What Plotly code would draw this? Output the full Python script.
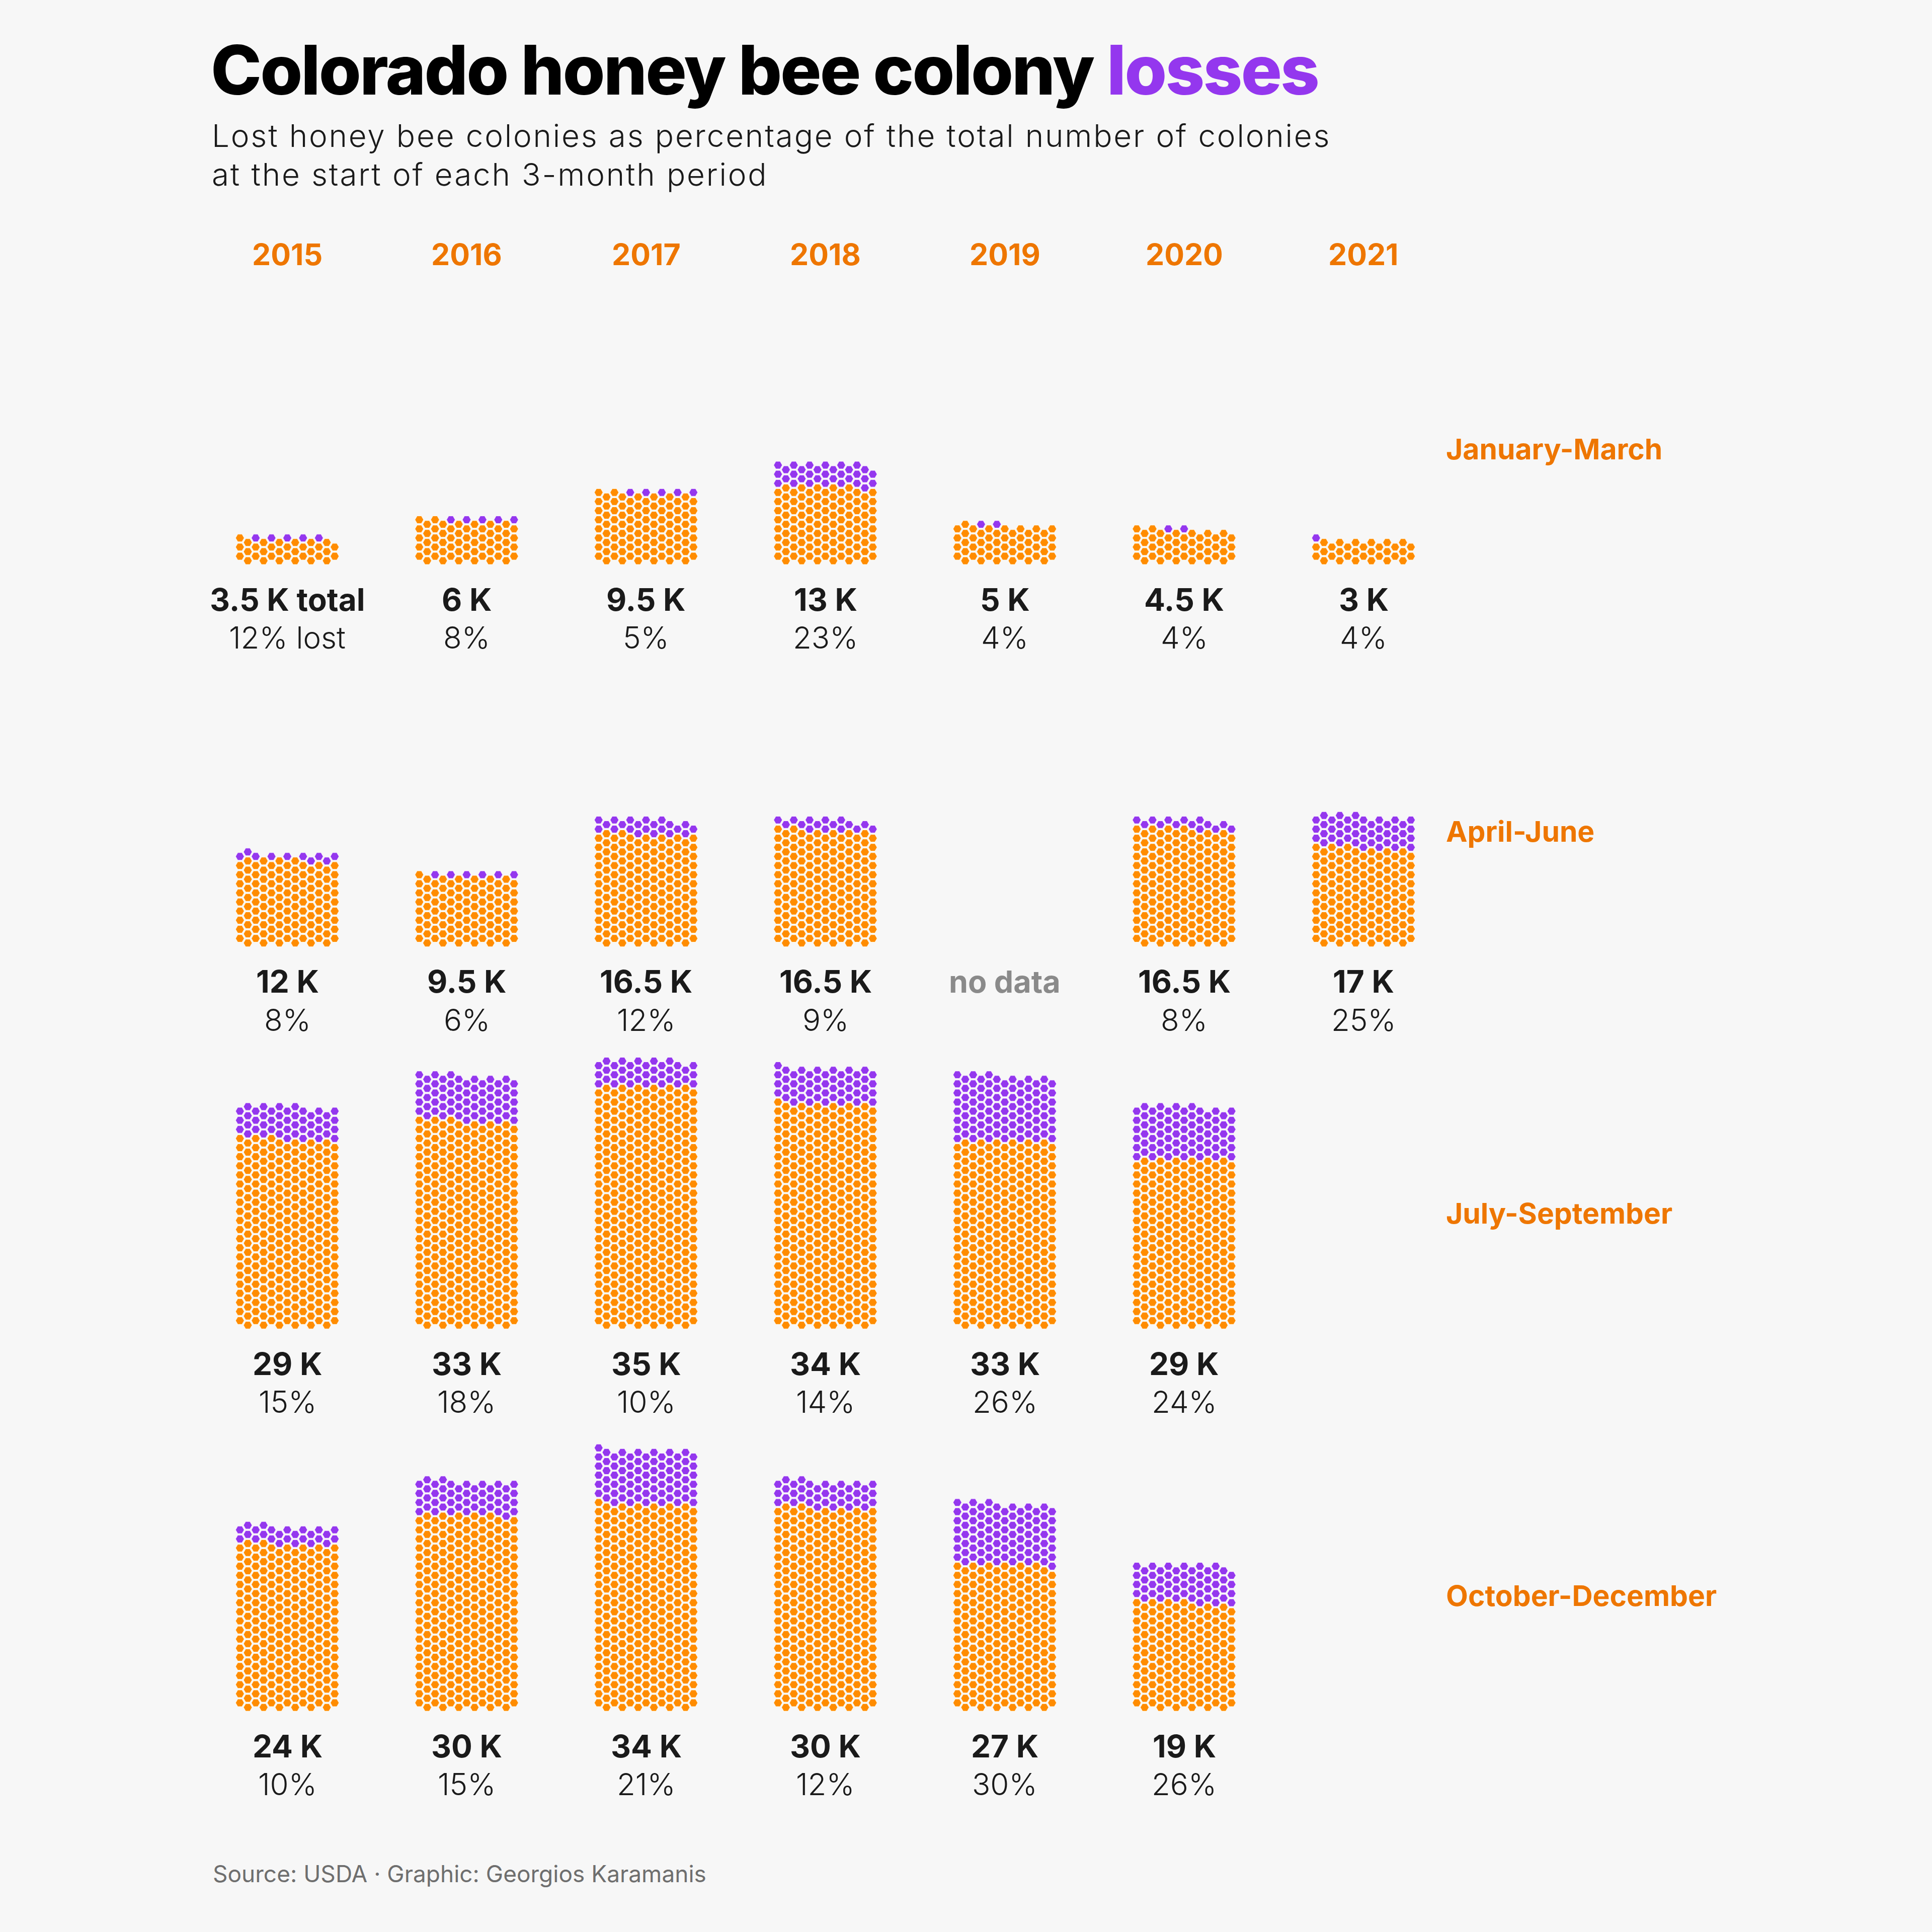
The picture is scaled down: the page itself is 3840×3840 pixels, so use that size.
import plotly.graph_objects as go

# ---------------- data ----------------
years = ["2015", "2016", "2017", "2018", "2019", "2020", "2021"]
periods = ["January-March", "April-June", "July-September", "October-December"]

# colonies at the start of each period (thousands); None = not shown
colonies_jan_mar = [3.5, 6, 9.5, 13, 5, 4.5, 3]
colonies_apr_jun = [12, 9.5, 16.5, 16.5, None, 16.5, 17]
colonies_jul_sep = [29, 33, 35, 34, 33, 29, None]
colonies_oct_dec = [24, 30, 34, 30, 27, 19, None]

# percentage of colonies lost
lost_pct_jan_mar = [12, 8, 5, 23, 4, 4, 4]
lost_pct_apr_jun = [8, 6, 12, 9, None, 8, 25]
lost_pct_jul_sep = [15, 18, 10, 14, 26, 24, None]
lost_pct_oct_dec = [10, 15, 21, 12, 30, 26, None]

no_data_cells = [("April-June", "2019")]

colonies = [colonies_jan_mar, colonies_apr_jun, colonies_jul_sep, colonies_oct_dec]
lost_pct = [lost_pct_jan_mar, lost_pct_apr_jun, lost_pct_jul_sep, lost_pct_oct_dec]

# ---------------- style / geometry ----------------
W = H = 3840
BG = "#F7F7F7"
ORANGE = "#FF8C00"
ORANGE_TXT = "#EE7600"
PURPLE = "#9437EE"
DARK = "#1A1A1A"
FONT = "Inter"

COLONIES_PER_HEX = 91.65   # colonies represented by one hexagon
N_COLS = 13                # hexagon columns per cell
COL_STEP = 15.7            # px between hexagon columns
HALF_ROW = 9.05            # px between staggered half rows
X0, DX = 571, 356.5        # centre of first year column, spacing
Y0, DY = 1114.5, 759.7     # centre of bottom hexagon row, spacing
HEX_SIZE = 17.3


def cell_positions(n, cx, yb):
    pts = []
    h = 0
    while len(pts) < n:
        ks = range(1, N_COLS, 2) if h % 2 == 0 else range(0, N_COLS, 2)
        for k in ks:
            if len(pts) >= n:
                break
            pts.append((cx + (k - (N_COLS - 1) / 2) * COL_STEP, yb - h * HALF_ROW))
        h += 1
    return pts


def fmt(v):
    return ("%g" % v)


ox, oy, px, py = [], [], [], []
annotations = []


def text(x, y_base, s, size, color=DARK, weight=400, xanchor="center", family=FONT):
    annotations.append(dict(
        x=x, y=y_base - 0.36 * size, xref="x", yref="y", text=s, showarrow=False,
        xanchor=xanchor, yanchor="middle",
        font=dict(family=family, size=size, color=color, weight=weight),
    ))


for i, period in enumerate(periods):
    yb = Y0 + i * DY
    for j, year in enumerate(years):
        cx = X0 + j * DX
        total = colonies[i][j]
        pct = lost_pct[i][j]
        if (period, year) in no_data_cells:
            text(cx, yb + 99, "no data", 61, color="#8A8A8A", weight=700)
            continue
        if total is None:
            continue
        n = round(total * 1000 / COLONIES_PER_HEX)
        n_lost = round(n * pct / 100)
        pts = cell_positions(n, cx, yb)
        for idx, (x, y) in enumerate(pts):
            if idx >= n - n_lost:
                px.append(x); py.append(y)
            else:
                ox.append(x); oy.append(y)
        first = (i == 0 and j == 0)
        text(cx, yb + 99, fmt(total) + " K" + (" total" if first else ""), 62, weight=700)
        text(cx, yb + 174, "%d%%" % pct + (" lost" if first else ""), 60, weight=300)

# year headers
for j, year in enumerate(years):
    text(X0 + j * DX, 527, year, 59, color=ORANGE_TXT, weight=700)

# period labels
for i, period in enumerate(periods):
    text(2872, 913 + i * DY, period, 57, color=ORANGE_TXT, weight=700, xanchor="left")

# title, subtitle, caption
text(417, 187,
     "<span style='letter-spacing:-3px'>Colorado honey bee colony </span>"
     "<span style='letter-spacing:-3px;color:%s'>losses</span>" % PURPLE,
     136, color="#000000", weight=800, xanchor="left")
text(419, 292,
     "<span style='letter-spacing:2.8px'>Lost honey bee colonies as percentage of the total number of colonies</span>",
     62, color=DARK, weight=300, xanchor="left")
text(419, 369, "<span style='letter-spacing:2.8px'>at the start of each 3-month period</span>",
     62, color=DARK, weight=300, xanchor="left")
text(421, 3741, "Source: USDA · Graphic: Georgios Karamanis", 46, color="#6E6E6E",
     weight=400, xanchor="left")

fig = go.Figure()
fig.add_trace(go.Scatter(
    x=ox, y=oy, mode="markers", hoverinfo="skip",
    marker=dict(symbol="hexagon2", size=HEX_SIZE, color=ORANGE,
                line=dict(width=1.1, color="rgba(255,250,235,0.9)")),
))
fig.add_trace(go.Scatter(
    x=px, y=py, mode="markers", hoverinfo="skip",
    marker=dict(symbol="hexagon2", size=HEX_SIZE, color=PURPLE,
                line=dict(width=1.1, color="rgba(250,240,255,0.9)")),
))

fig.update_layout(
    width=W, height=H, margin=dict(l=0, r=0, t=0, b=0),
    paper_bgcolor=BG, plot_bgcolor=BG, showlegend=False,
    xaxis=dict(range=[0, W], visible=False, fixedrange=True),
    yaxis=dict(range=[H, 0], visible=False, fixedrange=True),
    annotations=annotations,
)
fig.write_html("out.html")
